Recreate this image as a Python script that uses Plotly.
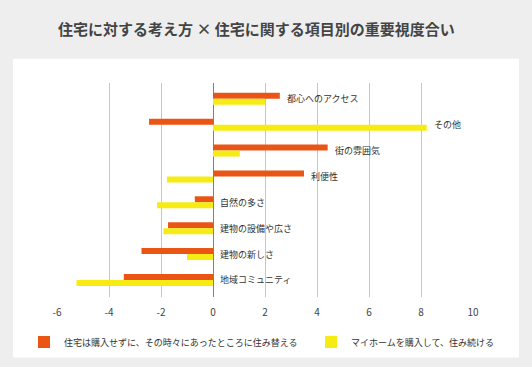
import plotly.graph_objects as go

categories = ["都心へのアクセス", "その他", "街の雰囲気", "利便性", "自然の多さ",
              "建物の設備や広さ", "建物の新しさ", "地域コミュニティ"]
series_names = ["住宅は購入せずに、その時々にあったところに住み替える",
                "マイホームを購入して、住み続ける"]
rent_values = [2.57, -2.46, 4.41, 3.50, -0.70, -1.73, -2.75, -3.43]
own_values = [2.00, 8.22, 1.03, -1.77, -2.15, -1.91, -1.00, -5.25]
tick_values = [-6, -4, -2, 0, 2, 4, 6, 8, 10]
tick_labels = ["-6", "-4", "-2", "0", "2", "4", "6", "8", "10"]
title_text = "住宅に対する考え方 × 住宅に関する項目別の重要視度合い"

ORANGE = "#EA5516"
YELLOW = "#F6EC14"
FONT = "Noto Sans CJK JP"

fig = go.Figure()
fig.add_trace(go.Bar(y=categories, x=rent_values, orientation="h", name=series_names[0],
                     marker=dict(color=ORANGE, line=dict(width=0)), legend="legend"))
fig.add_trace(go.Bar(y=categories, x=own_values, orientation="h", name=series_names[1],
                     marker=dict(color=YELLOW, line=dict(width=0)), legend="legend2"))

annotations = []
for cat, a, b in zip(categories, rent_values, own_values):
    annotations.append(dict(x=max(0, a, b), y=cat, xref="x", yref="y", text=cat,
                            showarrow=False, xanchor="left", yanchor="middle", xshift=5,
                            font=dict(family=FONT, size=9, color="#333333")))

legend_common = dict(orientation="h", xref="container", yref="container",
                     xanchor="left", y=1 - 342 / 367, yanchor="middle",
                     bgcolor="rgba(0,0,0,0)", borderwidth=0,
                     font=dict(family=FONT, size=9, color="#333333"),
                     itemclick=False, itemdoubleclick=False)

fig.update_layout(
    width=532, height=367,
    margin=dict(l=57, r=59, t=83, b=70, autoexpand=False),
    paper_bgcolor="#EEEEEE",
    plot_bgcolor="#FFFFFF",
    barmode="group",
    bargap=0.535,
    bargroupgap=0,
    font=dict(family=FONT, size=10, color="#444444"),
    title=dict(text=title_text, x=0.482, xanchor="center", xref="container",
               y=1 - 30 / 367, yanchor="middle", yref="container",
               font=dict(family=FONT, size=15, color="#444444", weight="bold")),
    xaxis=dict(range=[-6, 10], tickvals=tick_values, ticktext=tick_labels,
               showgrid=True, gridcolor="#C6C6C6", gridwidth=1,
               zeroline=True, zerolinecolor="#808080", zerolinewidth=1,
               showline=False, ticks="", ticklabelstandoff=8,
               tickfont=dict(family=FONT, size=10, color="#444444"), fixedrange=True),
    yaxis=dict(range=[7.66, -0.61], showticklabels=False, showgrid=False,
               zeroline=False, showline=False, ticks="", fixedrange=True),
    showlegend=True,
    legend=dict(x=24 / 532, **legend_common),
    legend2=dict(x=311 / 532, **legend_common),
    annotations=annotations,
    shapes=[dict(type="rect", xref="paper", yref="paper",
                 x0=(13 - 57) / 416, x1=(519 - 57) / 416,
                 y0=(296.7 - 357) / 213.4, y1=(296.7 - 59) / 213.4,
                 fillcolor="#FFFFFF", line=dict(width=0), layer="below")],
)

fig.write_html("out.html", config={"displayModeBar": False},
               post_script="document.body.style.margin='0';document.body.style.overflow='hidden';")
